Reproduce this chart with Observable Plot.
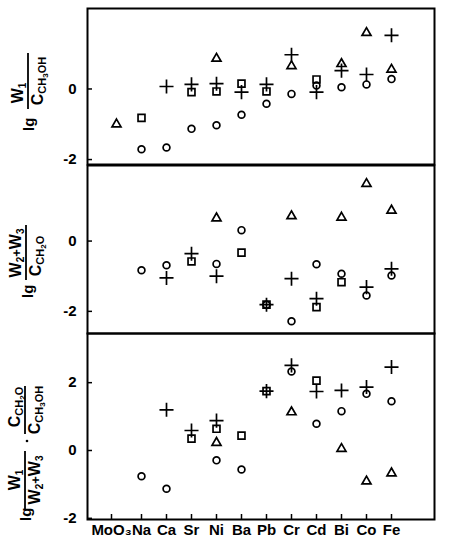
<!DOCTYPE html>
<html>
<head>
<meta charset="utf-8">
<script src="https://cdn.jsdelivr.net/npm/d3@7"></script>
<script src="https://cdn.jsdelivr.net/npm/@observablehq/plot@0.6"></script>
<style>
  body { margin: 0; background: white; }
  #chart { width: 453px; }
  #chart svg { display: block; }
</style>
</head>
<body>
<div id="chart"></div>
<script>
const categories = ["MoO₃", "Na", "Ca", "Sr", "Ni", "Ba", "Pb", "Cr", "Cd", "Bi", "Co", "Fe"];

// Panel 1: lg W1 / C_CH3OH
const p1Triangle = [-1.00, null, null, null, 0.86, null, null, 0.65, null, 0.71, 1.59, 0.55];
const p1Circle   = [null, -1.71, -1.66, -1.13, -1.03, -0.73, -0.42, -0.14, 0.10, 0.05, 0.13, 0.28];
const p1Square   = [null, -0.82, null, -0.09, -0.07, 0.15, -0.07, null, 0.27, null, null, null];
const p1Plus     = [null, null, 0.07, 0.13, 0.15, -0.09, 0.13, 0.97, -0.09, 0.52, 0.41, 1.52];

// Panel 2: lg (W2+W3) / C_CH2O
const p2Triangle = [null, null, null, null, 0.65, null, null, 0.71, null, 0.67, 1.63, 0.87];
const p2Circle   = [null, -0.83, -0.69, null, -0.65, 0.31, -1.81, -2.28, -0.66, -0.93, -1.55, -0.98];
const p2Square   = [null, null, null, -0.58, null, -0.33, -1.81, null, -1.88, -1.17, null, null];
const p2Plus     = [null, null, -1.05, -0.36, -1.00, null, -1.81, -1.07, -1.64, null, -1.31, -0.79];

// Panel 3: lg W1/(W2+W3) · C_CH2O/C_CH3OH
const p3Triangle = [null, null, null, null, 0.23, null, null, 1.13, null, 0.05, -0.91, -0.67];
const p3Circle   = [null, -0.76, -1.13, null, -0.29, -0.56, null, 2.33, 0.79, 1.16, 1.67, 1.45];
const p3Square   = [null, null, null, 0.35, 0.64, 0.44, 1.75, null, 2.06, null, null, null];
const p3Plus     = [null, null, 1.20, 0.59, 0.88, null, 1.75, 2.51, 1.74, 1.77, 1.87, 2.46];

const p1Ticks = [-2, 0];
const p2Ticks = [-2, 0];
const p3Ticks = [-2, 0, 2];

function toRows(values) {
  return values.map((v, i) => ({cat: categories[i], value: v})).filter(d => d.value != null);
}

const FONT = "'Liberation Sans', Arial, sans-serif";

function shapeMarks(tri, cir, sq, plus) {
  const common = {x: "cat", y: "value", stroke: "black", fill: "none", strokeWidth: 1.7};
  return [
    Plot.dot(toRows(tri), {...common, symbol: "triangle2", r: 4.3}),
    Plot.dot(toRows(cir), {...common, symbol: "circle", r: 3.4}),
    Plot.dot(toRows(sq), {...common, symbol: "square2", r: 4.4}),
    Plot.dot(toRows(plus), {...common, symbol: "plus", r: 4.6})
  ];
}

function panel({height, marginTop, marginBottom, domain, ticks, marks, xAxis}) {
  const all = [
    Plot.frame({stroke: "black", strokeWidth: 2}),
    Plot.axisY({ticks, tickSize: -5, tickPadding: 16, tickFormat: d => `${d}`, label: null,
      fontSize: 15, fontWeight: "bold", strokeWidth: 1.5}),
    ...marks
  ];
  if (xAxis) {
    const xOpts = {tickSize: -5, tickPadding: 10, label: null, fontSize: 15, fontWeight: "bold", strokeWidth: 1.5};
    all.push(Plot.axisX({...xOpts, ticks: categories.slice(1)}));
    all.push(Plot.axisX({...xOpts, ticks: categories.slice(0, 1), textAnchor: "middle", dx: -5}));
  }
  return Plot.plot({
    width: 453, height,
    marginLeft: 87, marginRight: 19, marginTop, marginBottom,
    style: {fontFamily: FONT, background: "white", color: "black", overflow: "visible"},
    x: {type: "point", domain: categories, range: [98.5, 407.5], axis: xAxis ? undefined : null, label: null},
    y: {domain, label: null},
    marks: all
  });
}

// rotated fraction labels
function seg(g, x, y, parts, anchor) {
  const t = g.append("text").attr("x", x).attr("y", y)
    .attr("text-anchor", anchor || "middle")
    .attr("font-family", FONT).attr("font-weight", "bold").attr("fill", "black");
  parts.forEach(([s, size, dy]) => {
    t.append("tspan").attr("font-size", size).attr("dy", dy).text(s);
  });
  return t;
}
function bar(g, x1, x2, y) {
  g.append("line").attr("x1", x1).attr("x2", x2).attr("y1", y).attr("y2", y)
    .attr("stroke", "black").attr("stroke-width", 1.8);
}
const W1 = [["W", 16, 0], ["1", 10, 3]];
const W23 = [["W", 16, 0], ["2", 10, 3], ["+", 13, -3], ["W", 16, 0], ["3", 10, 3]];
const C_MeOH = [["C", 16, 0], ["CH", 11, 3], ["3", 8, 2], ["OH", 11, -2]];
const C_HCHO = [["C", 16, 0], ["CH", 11, 3], ["2", 8, 2], ["O", 11, -2]];

const chart = d3.select("#chart");

const s1 = panel({height: 165, marginTop: 8, marginBottom: 1, domain: [-2.14, 2.28], ticks: p1Ticks,
  marks: shapeMarks(p1Triangle, p1Circle, p1Square, p1Plus)});
const s2 = panel({height: 168, marginTop: 0, marginBottom: 0, domain: [-2.63, 2.15], ticks: p2Ticks,
  marks: shapeMarks(p2Triangle, p2Circle, p2Square, p2Plus)});
const s3 = panel({height: 217, marginTop: 0, marginBottom: 31, domain: [-2.035, 3.45], ticks: p3Ticks,
  marks: shapeMarks(p3Triangle, p3Circle, p3Square, p3Plus), xAxis: true});

chart.node().append(s1, s2, s3);

// Label 1
{
  const g = d3.select(s1).append("g").attr("transform", "translate(28,131) rotate(-90)");
  seg(g, 0, 6, [["lg", 15, 0]], "start");
  bar(g, 22, 78, 0);
  seg(g, 38, -5, W1);
  seg(g, 50, 15, C_MeOH);
}
// Label 2 (svg offset 165)
{
  const g = d3.select(s2).append("g").attr("transform", `translate(26,${298 - 165}) rotate(-90)`);
  seg(g, 0, 7, [["lg", 15, 0]], "start");
  bar(g, 18, 73, 0);
  seg(g, 45, -5, W23);
  seg(g, 42, 15, C_HCHO);
}
// Label 3 (svg offset 333)
{
  const g = d3.select(s3).append("g").attr("transform", `translate(25,${521 - 333}) rotate(-90)`);
  seg(g, 0, 6, [["lg", 15, 0]], "start");
  bar(g, 12, 70, 0);
  seg(g, 41, -5, W1);
  seg(g, 41, 15, W23);
  g.append("circle").attr("cx", 80).attr("cy", 2).attr("r", 1.3).attr("fill", "black");
  bar(g, 87, 135, 0);
  seg(g, 114, -5, C_HCHO);
  seg(g, 111, 15, C_MeOH);
}
</script>
</body>
</html>
